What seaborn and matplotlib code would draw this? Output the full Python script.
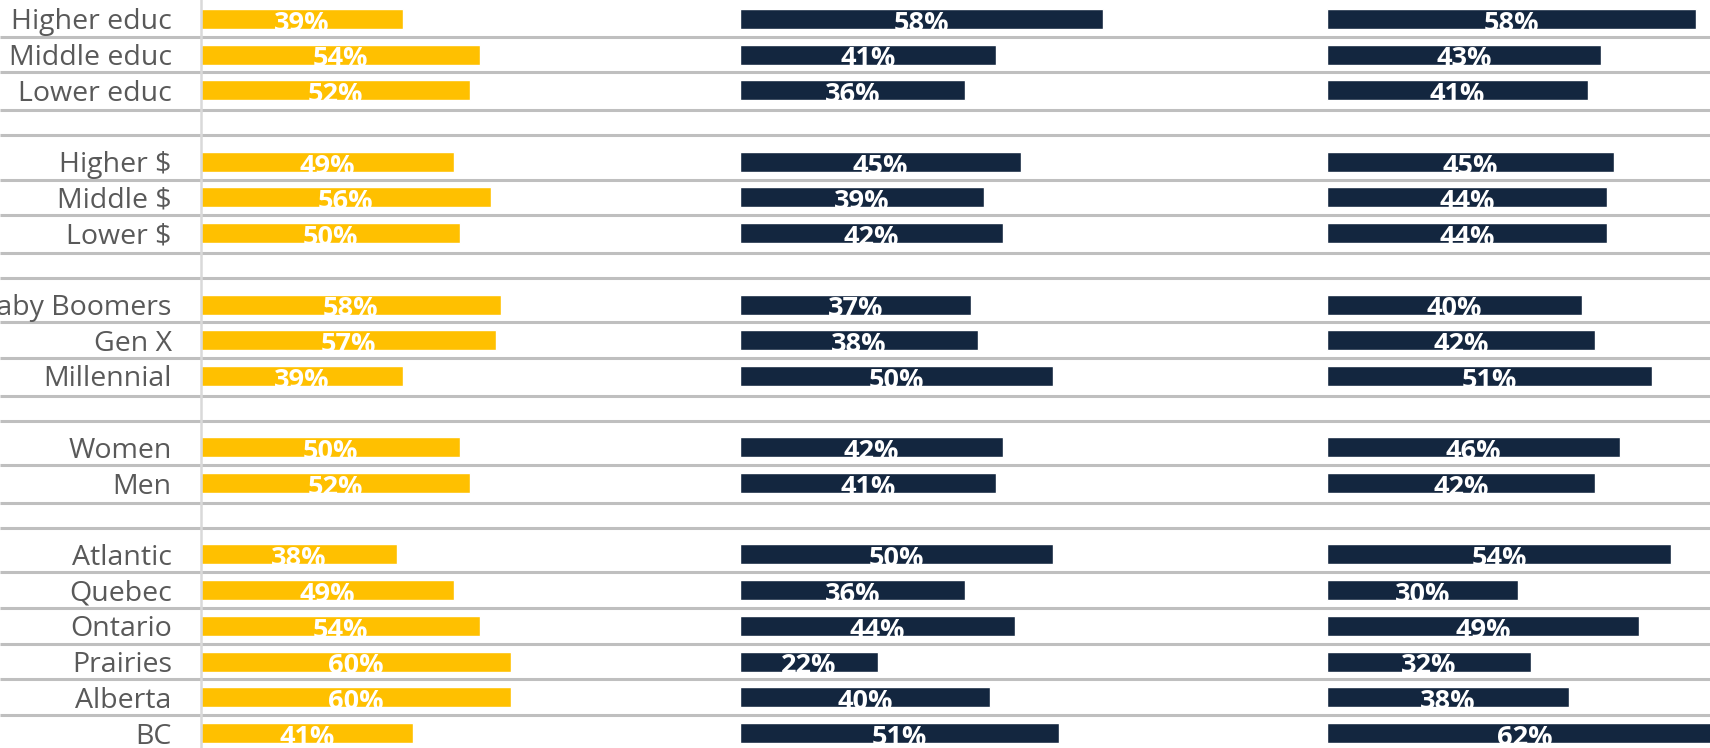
import numpy as np
import pandas as pd
import matplotlib
matplotlib.use('Agg')
import matplotlib.pyplot as plt
import seaborn as sns

sns.set_style('white')
plt.rcParams['font.family'] = ['Open Sans', 'DejaVu Sans']
plt.rcParams['text.parse_math'] = False

# ── data ───────────────────────────────────────────────────────────────────
categories = ['Higher educ', 'Middle educ', 'Lower educ',
              'Higher $', 'Middle $', 'Lower $',
              'Baby Boomers', 'Gen X', 'Millennial',
              'Women', 'Men',
              'Atlantic', 'Quebec', 'Ontario', 'Prairies', 'Alberta', 'BC']
group_sizes = [3, 3, 3, 2, 6]
share_left = [39, 54, 52, 49, 56, 50, 58, 57, 39, 50, 52, 38, 49, 54, 60, 60, 41]
share_mid = [58, 41, 36, 45, 39, 42, 37, 38, 50, 42, 41, 50, 36, 44, 22, 40, 51]
share_right = [58, 43, 41, 45, 44, 44, 40, 42, 51, 46, 42, 54, 30, 49, 32, 38, 62]

YELLOW = '#FFC000'
NAVY = '#13263F'
GRID = '#BFBFBF'
LABEL = '#595959'

# row positions, one blank row between groups
ypos, gaps = [], []
r = 0
for n in group_sizes:
    ypos.extend(range(r, r + n))
    r += n
    gaps.append(r)
    r += 1
gaps = gaps[:-1]

df = pd.DataFrame({'label': categories, 'y': ypos,
                   'left': share_left, 'mid': share_mid, 'right': share_right})

W, H = 1710, 748
fig = plt.figure(figsize=(W / 100, H / 100), dpi=100)
ylim = (20.42, -0.53)

# ── background row separators across the whole width ──────────────────────
bg = fig.add_axes([0, 0, 1, 1], zorder=0)
bg.set_xlim(0, 1)
bg.set_ylim(*ylim)
bg.axis('off')
sep = [y + 0.5 for y in ypos if y + 1 in ypos]
sep += [g - 0.45 for g in gaps] + [g + 0.25 for g in gaps]
bg.hlines(sep, 0, 1, color=GRID, lw=2.2)

# ── three bar panels: (column, colour, zero px, px per %, right edge px) ───
panels = [('left', YELLOW, 201, 5.17, 720),
          ('mid', NAVY, 740, 6.25, 1310),
          ('right', NAVY, 1327, 6.37, W)]

for i, (col, color, x0, scale, x1) in enumerate(panels):
    ax = fig.add_axes([x0 / W, 0, (x1 - x0) / W, 1], zorder=1)
    ax.set_facecolor('none')
    sns.barplot(data=df, x=col, y='y', orient='h', native_scale=True,
                color=color, saturation=1, width=0.56, errorbar=None, ax=ax)
    ax.set_xlim(0, (x1 - x0) / scale)
    ax.set_ylim(*ylim)
    ax.set_xticks([])
    ax.set_xlabel('')
    ax.set_ylabel('')
    for s in ax.spines.values():
        s.set_visible(False)
    for y, v in zip(df['y'], df[col]):
        ax.text(v / 2, y + 0.05, f'{v}%', ha='center', va='center_baseline',
                color='white', fontsize=19.5, fontweight='bold')
    if i == 0:
        ax.set_yticks(ypos)
        ax.set_yticklabels(categories, color=LABEL, fontsize=20.5)
        ax.tick_params(axis='y', length=0, pad=21)
        ax.spines['left'].set_visible(True)
        ax.spines['left'].set_color('#D9D9D9')
        ax.spines['left'].set_linewidth(1.8)
    else:
        ax.set_yticks([])

fig.savefig('out.png', dpi=100)
